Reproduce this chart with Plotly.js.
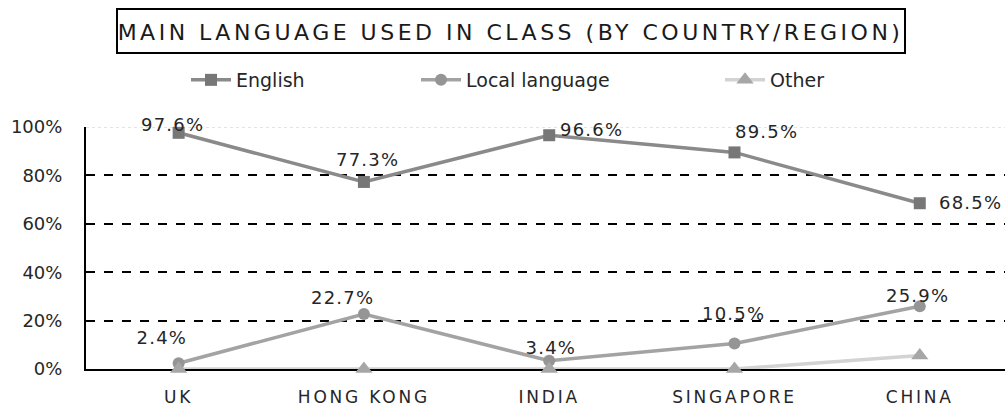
<!DOCTYPE html>
<html>
<head>
<meta charset="utf-8">
<script src="https://cdn.plot.ly/plotly-3.0.1.min.js"></script>
<style>
html,body{margin:0;padding:0;background:#fff;}
#chart{width:1005px;height:407px;}
</style>
</head>
<body>
<div id="chart"></div>
<script>
const categories = ["UK", "HONG KONG", "INDIA", "SINGAPORE", "CHINA"];
const english = [97.6, 77.3, 96.6, 89.5, 68.5];
const localLanguage = [2.4, 22.7, 3.4, 10.5, 25.9];
const other = [0, 0, 0, 0, 5.6];
const yTicks = [0, 20, 40, 60, 80, 100];
const yTickLabels = ["0%", "20%", "40%", "60%", "80%", "100%"];

// label offsets (pixels) relative to each point
const englishLabelDx = [-6, 4, 42, 32, 51];
const englishLabelDy = [8, 22, 6, 21, 1];
const localLabelDx = [-17, -21, 2, -1, -2];
const localLabelDy = [26, 17, 13, 30, 11];

const FONT = "DejaVu Sans, Verdana, sans-serif";
const fmt = v => v.toFixed(1) + "%";

const traces = [
  {
    name: "English", x: categories, y: english, type: "scatter", mode: "lines+markers",
    line: {color: "#8a8a8a", width: 3.5},
    marker: {symbol: "square", size: 12, color: "#777777"},
    legend: "legend", cliponaxis: false
  },
  {
    name: "Local language", x: categories, y: localLanguage, type: "scatter", mode: "lines+markers",
    line: {color: "#a3a3a3", width: 3.5},
    marker: {symbol: "circle", size: 12, color: "#959595"},
    legend: "legend2", cliponaxis: false
  },
  {
    name: "Other", x: categories, y: other, type: "scatter", mode: "lines+markers",
    line: {color: "#d3d3d3", width: 3.5},
    marker: {symbol: "triangle-up", size: 15, color: "#a6a6a6"},
    legend: "legend3", cliponaxis: false
  }
];

const annotations = [];
categories.forEach((c, i) => {
  annotations.push({x: c, y: english[i], xref: "x", yref: "y", text: fmt(english[i]),
    showarrow: false, xshift: englishLabelDx[i], yshift: englishLabelDy[i],
    font: {family: FONT, size: 18, color: "#262626"}});
  annotations.push({x: c, y: localLanguage[i], xref: "x", yref: "y", text: fmt(localLanguage[i]),
    showarrow: false, xshift: localLabelDx[i], yshift: localLabelDy[i],
    font: {family: FONT, size: 18, color: "#262626"}});
});

const plotL = 86, plotT = 127, plotB = 38, W = 1005, H = 407;
const plotW = W - plotL, plotH = H - plotT - plotB;
const px = x => (x - plotL) / plotW;
const py = y => (H - plotB - y) / plotH;

const legendFont = {family: FONT, size: 19, color: "#262626"};
const mkLegend = (xpix) => ({orientation: "h", x: px(xpix), xanchor: "left", y: py(80), yanchor: "middle",
  font: legendFont, bgcolor: "rgba(0,0,0,0)", itemwidth: 40});

const layout = {
  width: W, height: H,
  margin: {l: plotL, r: 0, t: plotT, b: plotB},
  paper_bgcolor: "#fff", plot_bgcolor: "#fff",
  showlegend: true,
  legend: mkLegend(186),
  legend2: mkLegend(416),
  legend3: mkLegend(720),
  title: {text: "MAIN LANGUAGE USED IN CLASS (BY COUNTRY/REGION)",
          font: {family: FONT, size: 22, color: "#1a1a1a"},
          x: 0.508, xanchor: "center", y: 0.92, yanchor: "middle"},
  annotations: annotations,
  shapes: [
    {type: "rect", xref: "paper", yref: "paper",
     x0: px(117), x1: px(905), y0: py(53), y1: py(9),
     line: {color: "#000", width: 2}, fillcolor: "rgba(0,0,0,0)", layer: "above"},
    {type: "line", xref: "paper", yref: "y", x0: 0, x1: 1, y0: 100, y1: 100,
     line: {color: "#dcdcdc", width: 1.5, dash: "dot"}, layer: "below"}
  ],
  xaxis: {
    type: "category", range: [-0.5, 4.46], showgrid: false, zeroline: false,
    showline: true, linecolor: "#000", linewidth: 2, layer: "below traces",
    ticks: "", tickfont: {family: FONT, size: 17, color: "#262626"},
    ticklabelstandoff: 12, fixedrange: true
  },
  yaxis: {
    range: [0, 100], tickvals: yTicks, ticktext: yTickLabels,
    showgrid: true, gridcolor: "#000", gridwidth: 2, griddash: "dash",
    zeroline: false, showline: true, linecolor: "#000", linewidth: 2, layer: "below traces",
    ticks: "", tickfont: {family: FONT, size: 18, color: "#262626"},
    ticklabelstandoff: 18, fixedrange: true
  }
};

Plotly.newPlot("chart", traces, layout, {displayModeBar: false, staticPlot: true}).then(() => {
  document.querySelectorAll(".xtick text").forEach(t => t.style.letterSpacing = "2.8px");
  document.querySelectorAll(".gtitle").forEach(t => t.style.letterSpacing = "3.5px");
  document.querySelectorAll(".annotation-text").forEach(t => t.style.letterSpacing = "1.2px");
});
</script>
</body>
</html>
